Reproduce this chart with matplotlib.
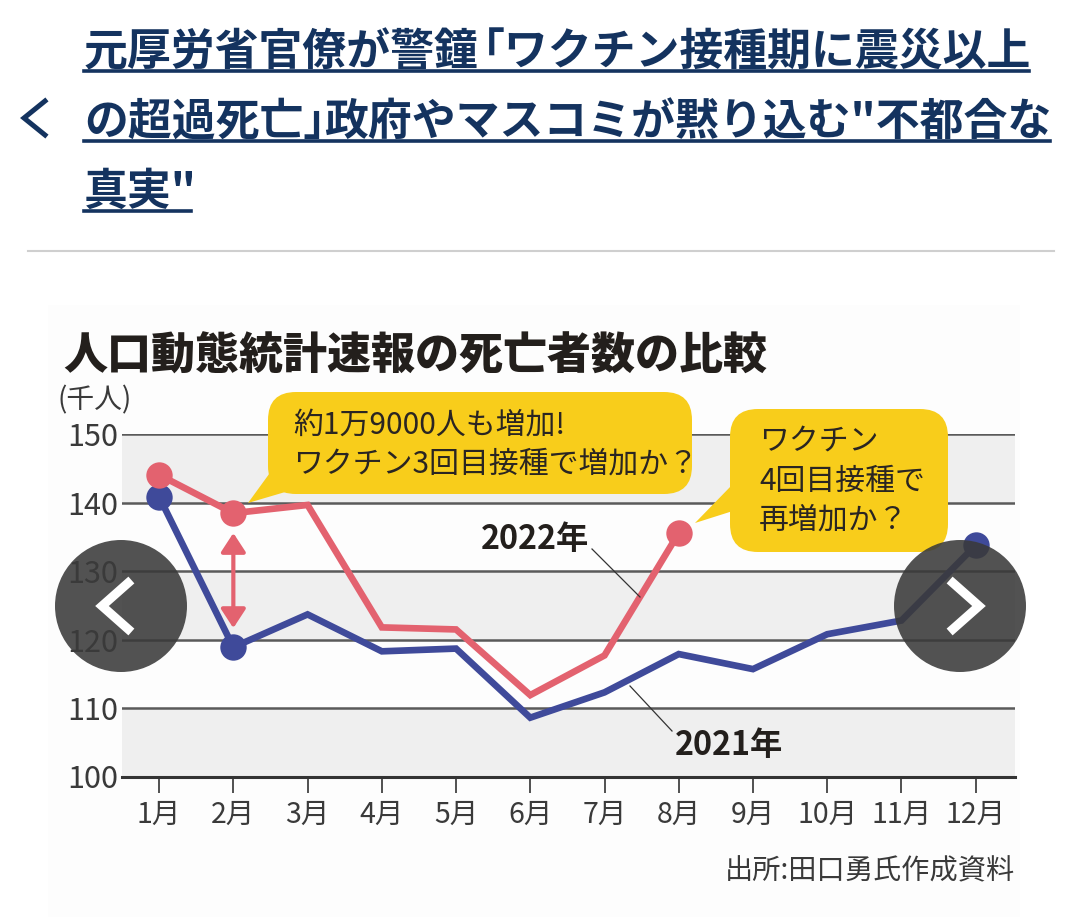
import matplotlib
matplotlib.use('Agg')
import matplotlib.pyplot as plt
from matplotlib.patches import Circle, FancyBboxPatch, Polygon, Rectangle

plt.rcParams['font.family'] = ['Noto Sans CJK JP', 'DejaVu Sans']

# Values (thousand people)
months = [1, 2, 3, 4, 5, 6, 7, 8, 9, 10, 11, 12]
month_labels = ['1月', '2月', '3月', '4月', '5月', '6月', '7月', '8月', '9月', '10月', '11月', '12月']
deaths_2021 = [140.9, 118.9, 123.7, 118.3, 118.7, 108.6, 112.3, 117.9, 115.7, 120.8, 122.8, 133.8]
deaths_2022 = [144.1, 138.5, 139.7, 121.8, 121.5, 111.9, 117.7, 135.6]
y_ticks = [100, 110, 120, 130, 140, 150]
bands = [(100, 110), (120, 130), (140, 150)]

# Headline runs, split at the corner brackets so they can sit tight like the original
headline = [(84, 52, '元厚労省官僚が警鐘'),
            (461, 52, '「ワクチン接種期に震災以上'),
            (84, 122, 'の超過死亡」'),
            (324, 122, '政府やマスコミが黙り込む"不都合な'),
            (84, 192, '真実"')]

NAVY = '#14335f'
RED = '#e3626f'
BLUE = '#3f4a9a'
YELLOW = '#f8cd1b'
INK = '#2a2522'

W, H = 1080, 917
fig = plt.figure(figsize=(W / 100, H / 100), dpi=100, facecolor='white')

# Faint off-white of the pasted chart image
base = fig.add_axes([0, 0, 1, 1], zorder=0)
base.set_xlim(0, W)
base.set_ylim(H, 0)
base.axis('off')
base.add_patch(Rectangle((48, 305), 972, 612, fc='#fdfdfd', ec='none'))

# Chart axes, placed on the pixel position of the plot area
left, right, top, bottom = 122, 1015, 434.5, 776.5
ax = fig.add_axes([left / W, 1 - bottom / H, (right - left) / W, (bottom - top) / H], zorder=2)
ax.set_xlim(0.5, 12.53)
ax.set_ylim(100, 150)
ax.patch.set_alpha(0)
for band in bands:
    ax.axhspan(band[0], band[1], color='#efefef', lw=0, zorder=0)
ax.set_yticks(y_ticks)
ax.grid(axis='y', color='#5a5a5a', lw=1.8, zorder=1)
for spine in ['left', 'right', 'top']:
    ax.spines[spine].set_visible(False)
ax.spines['bottom'].set_color('#333333')
ax.spines['bottom'].set_linewidth(2.2)
ax.set_xticks(months)
ax.set_xticklabels(month_labels)
ax.tick_params(axis='x', length=11.5, width=1.2, color='#333333', direction='out', pad=5,
               labelsize=20.5, labelcolor='#3a3a3a')
ax.tick_params(axis='y', length=0, pad=3, labelsize=22, labelcolor='#3a3a3a')
for lab in ax.get_yticklabels() + ax.get_xticklabels():
    lab.set_clip_on(False)

ax.plot(months, deaths_2021, color=BLUE, lw=4.8, solid_joinstyle='miter', zorder=3)
ax.plot(months[:len(deaths_2022)], deaths_2022, color=RED, lw=4.8, solid_joinstyle='miter', zorder=4)
ax.plot([1, 2, 12], [deaths_2021[0], deaths_2021[1], deaths_2021[11]], 'o', color=BLUE, ms=19, mew=0, zorder=5, clip_on=False)
ax.plot([1, 2, 8], [deaths_2022[0], deaths_2022[1], deaths_2022[7]], 'o', color=RED, ms=19, mew=0, zorder=6, clip_on=False)
ax.annotate('', xy=(2, 135.6), xytext=(2, 121.7),
            arrowprops=dict(arrowstyle='<|-|>,head_width=0.75,head_length=1.15', color=RED, lw=3, shrinkA=0, shrinkB=0),
            zorder=6)

# Overlay in pixel coordinates for everything that is not data
ov = fig.add_axes([0, 0, 1, 1], zorder=3)
ov.set_xlim(0, W)
ov.set_ylim(H, 0)
ov.axis('off')

# Page header
ov.plot([45, 24, 45], [101, 118, 135], color=NAVY, lw=3.6, solid_joinstyle='miter')
for x_pos, y_pos, text in headline:
    ov.text(x_pos, y_pos, text, fontsize=31.6, fontweight='bold', color=NAVY, va='center', ha='left')
ov.plot([84, 1029], [71, 71], color=NAVY, lw=2.6)
ov.plot([84, 1050], [141, 141], color=NAVY, lw=2.6)
ov.plot([84, 191], [211, 211], color=NAVY, lw=2.6)
ov.plot([28, 1054], [251, 251], color='#cfcfcf', lw=1.5)

# Chart title and units
ov.text(63, 356, '人口動態統計速報の死亡者数の比較', fontsize=31.7, fontweight='black', color='#231f1c', va='center', ha='left')
ov.text(57, 400, '(千人)', fontsize=20, color='#3a3a3a', va='center', ha='left')

# Speech bubbles
ov.add_patch(FancyBboxPatch((296, 420), 368, 46, boxstyle='round,pad=28,rounding_size=28', fc=YELLOW, ec='none'))
ov.add_patch(Polygon([(248, 503), (272, 470), (292, 490)], fc=YELLOW, ec='none'))
ov.text(293, 425, '約1万9000人も増加!', fontsize=21.5, color=INK, va='center', ha='left')
ov.text(293, 464, 'ワクチン3回目接種で増加か？', fontsize=21.5, color=INK, va='center', ha='left')

ov.add_patch(FancyBboxPatch((758, 437), 162, 87, boxstyle='round,pad=28,rounding_size=28', fc=YELLOW, ec='none'))
ov.add_patch(Polygon([(695, 523), (732, 485), (736, 510)], fc=YELLOW, ec='none'))
ov.text(759, 441, 'ワクチン', fontsize=21.5, color=INK, va='center', ha='left')
ov.text(759, 481, '4回目接種で', fontsize=21.5, color=INK, va='center', ha='left')
ov.text(759, 520, '再増加か？', fontsize=21.5, color=INK, va='center', ha='left')

# Series labels with leader lines
ov.text(481, 540, '2022年', fontsize=23.3, fontweight='bold', color='#231f1c', va='center', ha='left')
ov.plot([592, 640], [549, 597], color='#333333', lw=0.9)
ov.text(675, 745, '2021年', fontsize=23.3, fontweight='bold', color='#231f1c', va='center', ha='left')
ov.plot([630, 672], [686, 731], color='#333333', lw=0.9)

# Source
ov.text(1015, 871, '出所:田口勇氏作成資料', fontsize=20.3, color='#3a3a3a', va='center', ha='right')

# Gallery buttons over the chart
for cx in [121, 960]:
    ov.add_patch(Circle((cx, 606), 66, fc='#3a3a3a', ec='none', alpha=0.88, zorder=5))
ov.plot([128, 102, 128], [583, 606, 629], color='white', lw=6.5, solid_joinstyle='miter', zorder=6)
ov.plot([953, 979, 953], [583, 606, 629], color='white', lw=6.5, solid_joinstyle='miter', zorder=6)

fig.savefig('out.png', dpi=100)
